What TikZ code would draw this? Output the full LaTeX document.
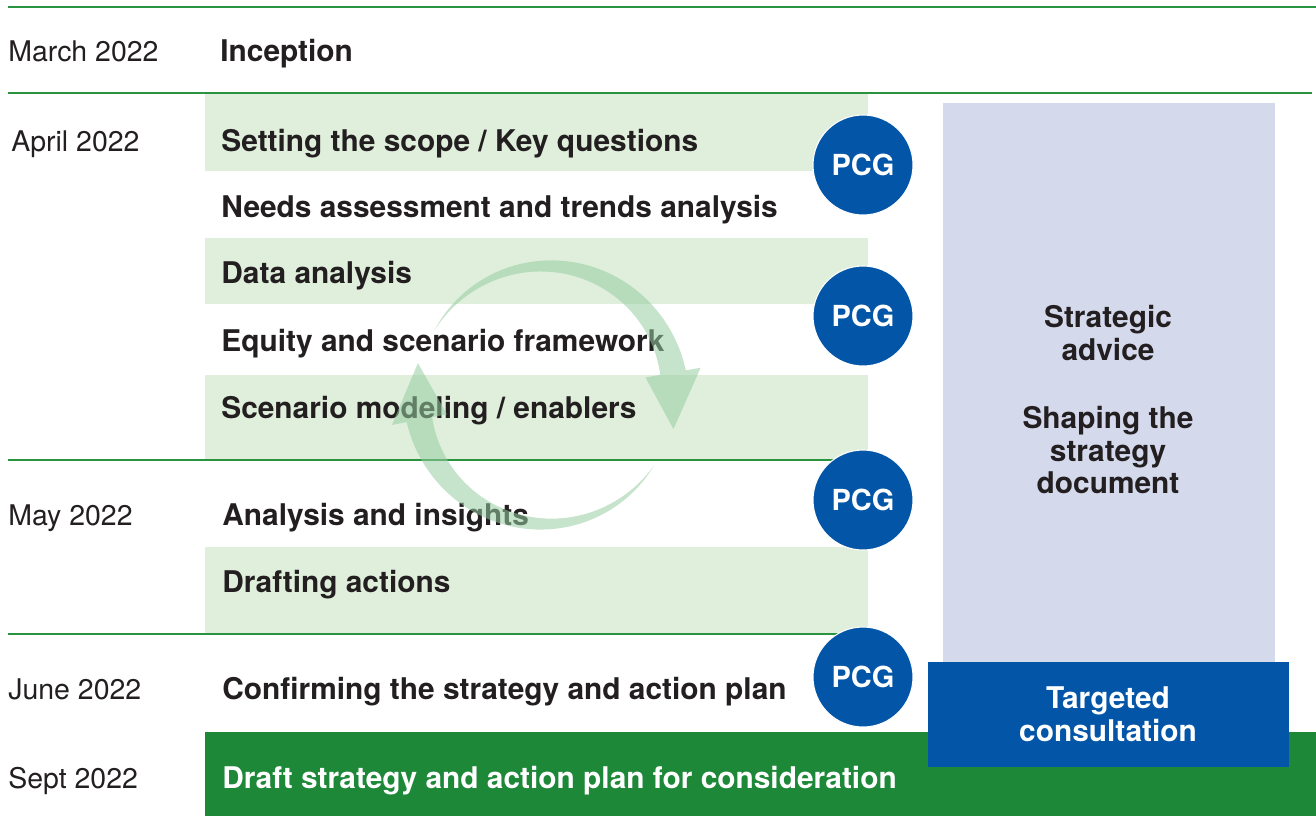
\documentclass[tikz,border=0pt]{standalone}
\usepackage{fontspec}
\setmainfont{TeX Gyre Heros}
\usetikzlibrary{positioning}
\definecolor{inkgray}{HTML}{231F20}
\definecolor{rulegreen}{HTML}{2A9340}
\definecolor{bandgreen}{HTML}{E0EFDC}
\definecolor{darkgreen}{HTML}{1C8838}
\definecolor{pcgblue}{HTML}{0355A7}
\definecolor{lavender}{HTML}{D4D9EC}
\definecolor{cyclegreen}{RGB}{150,205,160}
\tikzset{
    datelbl/.style={anchor=base west, inner sep=0pt, text=inkgray, font=\fontsize{16.2}{20}\selectfont},
    tasklbl/.style={anchor=base west, inner sep=0pt, text=inkgray, font=\fontsize{17}{20}\selectfont\bfseries},
    pcg/.style={circle, fill=pcgblue, draw=white, line width=0.6pt, minimum size=2cm, inner sep=0pt, text=white, font=\fontsize{16.5}{20}\selectfont\bfseries},
    boxlbl/.style={align=center, inner sep=0pt, font=\fontsize{17}{18.5}\selectfont\bfseries},
    rowline/.style={draw=rulegreen, line width=0.7pt},
    cyclearrow/.style={fill=cyclegreen, fill opacity=0.55}
}
\begin{document}
\begin{tikzpicture}[x=0.02cm, y=-0.02cm]
    \useasboundingbox (0,0) rectangle (1316,816);
    % bands
    \fill[bandgreen] (205,93) rectangle (868,171);
    \fill[bandgreen] (205,238) rectangle (868,304);
    \fill[bandgreen] (205,375) rectangle (868,460);
    \fill[bandgreen] (205,547) rectangle (868,633);
    \fill[darkgreen] (205,732) rectangle (1316,816);
    % rules
    \draw[rowline] (8,7) -- (1316,7);
    \draw[rowline] (8,93) -- (1312,93);
    \draw[rowline] (8,460) -- (868,460);
    \draw[rowline] (8,634) -- (868,634);
    % dates
    \node[datelbl] (march) at (8,61) {March 2022};
    \node[datelbl] (april) at (11,151) {April 2022};
    \node[datelbl] (may) at (8,525) {May 2022};
    \node[datelbl] (june) at (8,699) {June 2022};
    \node[datelbl] (sept) at (8,788) {Sept 2022};
    % tasks
    \node[tasklbl] (inception) at (220,61) {Inception};
    \node[tasklbl] (scope) at (221,151) {Setting the scope / Key questions};
    \node[tasklbl] (needs) at (221,217) {Needs assessment and trends analysis};
    \node[tasklbl] (data) at (221,283) {Data analysis};
    \node[tasklbl] (equity) at (221,351) {Equity and scenario framework};
    \node[tasklbl] (scenario) at (221,418) {Scenario modeling / enablers};
    \node[tasklbl] (insights) at (222,525) {Analysis and insights};
    \node[tasklbl] (drafting) at (222,592) {Drafting actions};
    \node[tasklbl] (confirm) at (222,699) {Confirming the strategy and action plan};
    \node[tasklbl, text=white] (draft) at (222,788) {Draft strategy and action plan for consideration};
    % cycle arrow
    \fill[cyclearrow] plot[domain=150:10, samples=50] ({546+(129+13*(150-\x)/140)*cos(\x)}, {395-(129+13*(150-\x)/140)*sin(\x)})
        -- ({546+157*cos(10)}, {395-157*sin(10)}) -- ({546+132*cos(-15)}, {395-132*sin(-15)}) -- ({546+101*cos(10)}, {395-101*sin(10)})
        -- plot[domain=10:150, samples=50] ({546+(129-13*(150-\x)/140)*cos(\x)}, {395-(129-13*(150-\x)/140)*sin(\x)}) -- cycle;
    \fill[cyclearrow] plot[domain=-33:-169, samples=50] ({546+(129+13*(-33-\x)/136)*cos(\x)}, {395-(129+13*(-33-\x)/136)*sin(\x)})
        -- ({546+157*cos(-169)}, {395-157*sin(-169)}) -- ({546+132*cos(-194)}, {395-132*sin(-194)}) -- ({546+101*cos(-169)}, {395-101*sin(-169)})
        -- plot[domain=-169:-33, samples=50] ({546+(129-13*(-33-\x)/136)*cos(\x)}, {395-(129-13*(-33-\x)/136)*sin(\x)}) -- cycle;
    % PCG meetings
    \node[pcg] (pcg1) at (863,165) {PCG};
    \node[pcg] (pcg2) at (863,316) {PCG};
    \node[pcg] (pcg3) at (863,500) {PCG};
    \node[pcg] (pcg4) at (863,677) {PCG};
    % right column
    \fill[lavender] (943,103) rectangle (1275,662);
    \node[boxlbl, text=inkgray] (advice) at (1108,333) {Strategic\\advice};
    \node[boxlbl, text=inkgray] (shaping) at (1108,450) {Shaping the\\strategy\\document};
    \fill[pcgblue] (928,662) rectangle (1289,767);
    \node[boxlbl, text=white] (consult) at (1108,714) {Targeted\\consultation};
\end{tikzpicture}
\end{document}
